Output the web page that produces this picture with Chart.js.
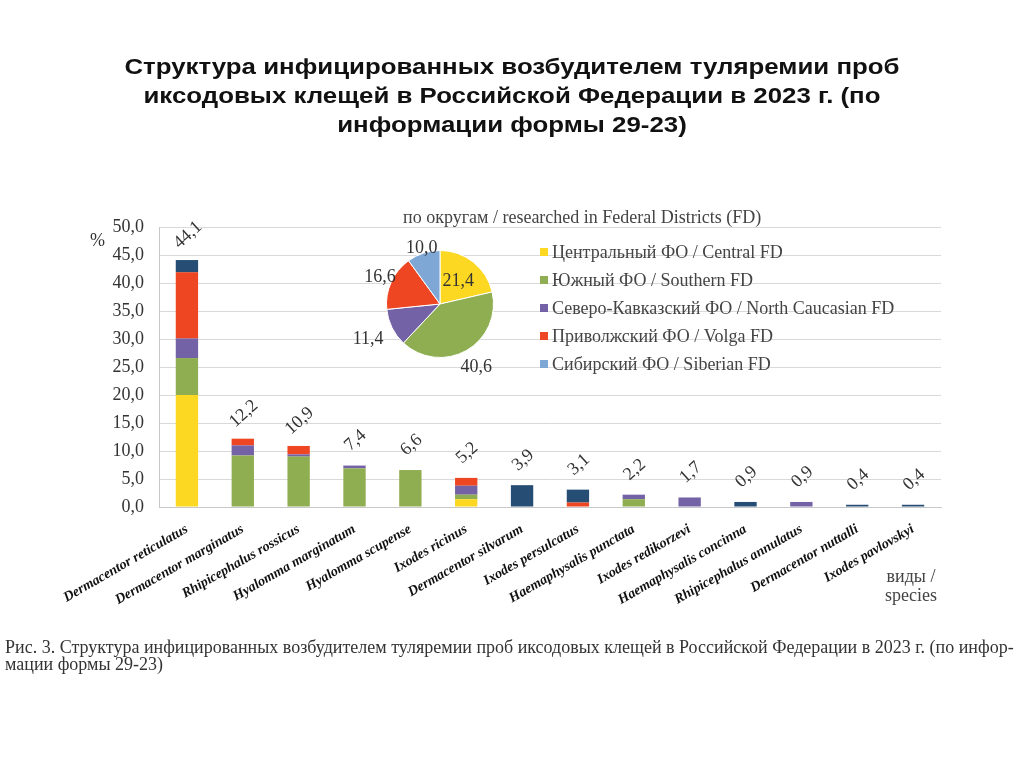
<!DOCTYPE html>
<html lang="ru">
<head>
<meta charset="utf-8">
<script src="https://cdn.jsdelivr.net/npm/chart.js@4.4.1/dist/chart.umd.min.js"></script>
<style>
  html, body { margin: 0; padding: 0; background: #fff; }
  #page { position: relative; width: 1024px; height: 767px; overflow: hidden; }
  #barCanvas { position: absolute; left: 0; top: 0; }
  #pieCanvas { position: absolute; left: 330px; top: 220px; }
  .title {
    position: absolute; left: 0; top: 52px; width: 1024px; text-align: center;
    font: bold 22px "Liberation Sans", Arial, sans-serif; line-height: 29px; color: #111;
    transform-origin: 512px 0; transform: scaleX(1.175);
  }
  .pie-title {
    position: absolute; left: 403px; top: 207px;
    font: 18px "Liberation Serif", serif; color: #444; white-space: nowrap;
  }
  .legend { position: absolute; left: 540px; top: 239px; font: 18px "Liberation Serif", serif; color: #444; }
  .legend div { height: 28px; line-height: 26px; white-space: nowrap; }
  .legend span.sw { display: inline-block; width: 8px; height: 8px; margin-right: 4px; vertical-align: 2px; }
  .pct { position: absolute; left: 90px; top: 230px; font: 18px "Liberation Serif", serif; color: #333; }
  .species { position: absolute; left: 876px; top: 567px; width: 70px; text-align: center; font: 18px "Liberation Serif", serif; color: #444; line-height: 19px; }
  .caption {
    position: absolute; left: 5px; top: 639px; white-space: nowrap;
    font: 18px "Liberation Serif", serif; color: #333; line-height: 17px;
    transform-origin: 0 0; transform: scaleX(1.0);
  }
</style>
</head>
<body>
<div id="page">
  <canvas id="barCanvas" width="1024" height="767"></canvas>
  <div class="title">Структура инфицированных возбудителем туляремии проб<br>иксодовых клещей в Российской Федерации в 2023 г. (по<br>информации формы 29-23)</div>
  <div class="pct">%</div>
  <div class="pie-title">по округам / researched in Federal Districts (FD)</div>
  <canvas id="pieCanvas" width="220" height="168"></canvas>
  <div class="legend" id="legend"></div>
  <div class="species">виды /<br>species</div>
  <div class="caption">Рис. 3. Структура инфицированных возбудителем туляремии проб иксодовых клещей в Российской Федерации в 2023 г. (по инфор-<br>мации формы 29-23)</div>
</div>
<script>
// Species (x categories)
const species = [
  "Dermacentor reticulatus", "Dermacentor marginatus", "Rhipicephalus rossicus",
  "Hyalomma marginatum", "Hyalomma scupense", "Ixodes ricinus", "Dermacentor silvarum",
  "Ixodes persulcatus", "Haemaphysalis punctata", "Ixodes redikorzevi",
  "Haemaphysalis concinna", "Rhipicephalus annulatus", "Dermacentor nuttalli", "Ixodes pavlovskyi"
];

// Stacked segments per federal district, %
const central  = [20.0, 0,   0,   0,   0,   1.4, 0,   0,   0,   0,   0,   0,   0,   0];
const southern = [6.6,  9.2, 9.0, 6.9, 6.6, 0.8, 0,   0,   1.4, 0,   0,   0,   0,   0];
const northCau = [3.5,  1.8, 0.4, 0.5, 0,   1.6, 0,   0,   0.8, 1.7, 0,   0.9, 0,   0];
const volga    = [11.8, 1.2, 1.5, 0,   0,   1.4, 0,   0.8, 0,   0,   0,   0,   0,   0];
const siberian = [2.2,  0,   0,   0,   0,   0,   3.9, 2.3, 0,   0,   0.9, 0,   0.4, 0.4];

// Totals printed above bars
const totals = [44.1, 12.2, 10.9, 7.4, 6.6, 5.2, 3.9, 3.1, 2.2, 1.7, 0.9, 0.9, 0.4, 0.4];

// Y axis ticks
const yMin = 0, yMax = 50, yStep = 5;

// Pie: share by district
const districts = [
  "Центральный ФО / Central FD",
  "Южный ФО / Southern FD",
  "Северо-Кавказский ФО / North Caucasian FD",
  "Приволжский ФО / Volga FD",
  "Сибирский ФО / Siberian FD"
];
const pieValues = [21.4, 40.6, 11.4, 16.6, 10.0];

const colors = {
  central: "#FCD823",
  southern: "#8FAE52",
  northCau: "#7462A6",
  volga: "#EE4523",
  siberianBar: "#264E75",
  siberianPie: "#7FA7D6"
};

const fmt = (v) => v.toFixed(1).replace(".", ",");

// Legend (HTML)
const pieColors = [colors.central, colors.southern, colors.northCau, colors.volga, colors.siberianPie];
document.getElementById("legend").innerHTML = districts
  .map((d, i) => `<div><span class="sw" style="background:${pieColors[i]}"></span>${d}</div>`)
  .join("");

// Total labels above stacked bars
const totalLabels = {
  id: "totalLabels",
  afterDatasetsDraw(chart) {
    const { ctx, scales: { x, y } } = chart;
    ctx.save();
    ctx.font = '18px "Liberation Serif"';
    ctx.fillStyle = "#333";
    ctx.textAlign = "center";
    ctx.textBaseline = "middle";
    totals.forEach((t, i) => {
      const px = x.getPixelForValue(i);
      const py = y.getPixelForValue(t);
      ctx.save();
      ctx.translate(px + 1, py - 25);
      ctx.rotate(-42 * Math.PI / 180);
      ctx.fillText(fmt(t), 0, 0);
      ctx.restore();
    });
    ctx.restore();
  }
};

const bar = (label, data, color) => ({
  label, data, backgroundColor: color, borderWidth: 0,
  barPercentage: 0.4, categoryPercentage: 1
});

new Chart(document.getElementById("barCanvas"), {
  type: "bar",
  data: {
    labels: species,
    datasets: [
      bar("Центральный ФО", central, colors.central),
      bar("Южный ФО", southern, colors.southern),
      bar("Северо-Кавказский ФО", northCau, colors.northCau),
      bar("Приволжский ФО", volga, colors.volga),
      bar("Сибирский ФО", siberian, colors.siberianBar)
    ]
  },
  options: {
    responsive: false,
    devicePixelRatio: 1,
    animation: false,
    layout: { padding: { left: 0, top: 227, right: 83, bottom: 0 } },
    plugins: { legend: { display: false }, tooltip: { enabled: false } },
    scales: {
      x: {
        stacked: true,
        grid: { display: false, drawTicks: false },
        border: { color: "#c8c8c8" },
        ticks: {
          autoSkip: false,
          maxRotation: 30, minRotation: 30,
          padding: 14,
          color: "#111",
          font: { family: "Liberation Serif", size: 14, style: "italic", weight: "bold" }
        },
        afterFit: (s) => { s.height = 260; }
      },
      y: {
        stacked: true,
        min: yMin, max: yMax,
        grid: { color: "#d9d9d9", drawTicks: false },
        border: { color: "#c8c8c8" },
        ticks: {
          stepSize: yStep,
          padding: 15,
          color: "#333",
          font: { family: "Liberation Serif", size: 18 },
          callback: (v) => fmt(v)
        },
        afterFit: (s) => { s.width = 159; }
      }
    }
  },
  plugins: [totalLabels]
});

// Pie labels
const pieLabelRadius = [0.55, 1.36, 1.5, 1.23, 1.1];
const pieLabels = {
  id: "pieLabels",
  afterDatasetsDraw(chart) {
    const { ctx } = chart;
    const arcs = chart.getDatasetMeta(0).data;
    ctx.save();
    ctx.font = '18px "Liberation Serif"';
    ctx.fillStyle = "#333";
    ctx.textAlign = "center";
    ctx.textBaseline = "middle";
    arcs.forEach((arc, i) => {
      const mid = (arc.startAngle + arc.endAngle) / 2;
      const r = arc.outerRadius * pieLabelRadius[i];
      ctx.fillText(fmt(pieValues[i]), arc.x + Math.cos(mid) * r, arc.y + Math.sin(mid) * r);
    });
    ctx.restore();
  }
};

new Chart(document.getElementById("pieCanvas"), {
  type: "pie",
  data: {
    labels: districts,
    datasets: [{ data: pieValues, backgroundColor: pieColors, borderColor: "#fff", borderWidth: 1 }]
  },
  options: {
    responsive: false,
    devicePixelRatio: 1,
    animation: false,
    layout: { padding: { left: 56, right: 56, top: 30, bottom: 30 } },
    plugins: { legend: { display: false }, tooltip: { enabled: false } }
  },
  plugins: [pieLabels]
});
</script>
</body>
</html>
